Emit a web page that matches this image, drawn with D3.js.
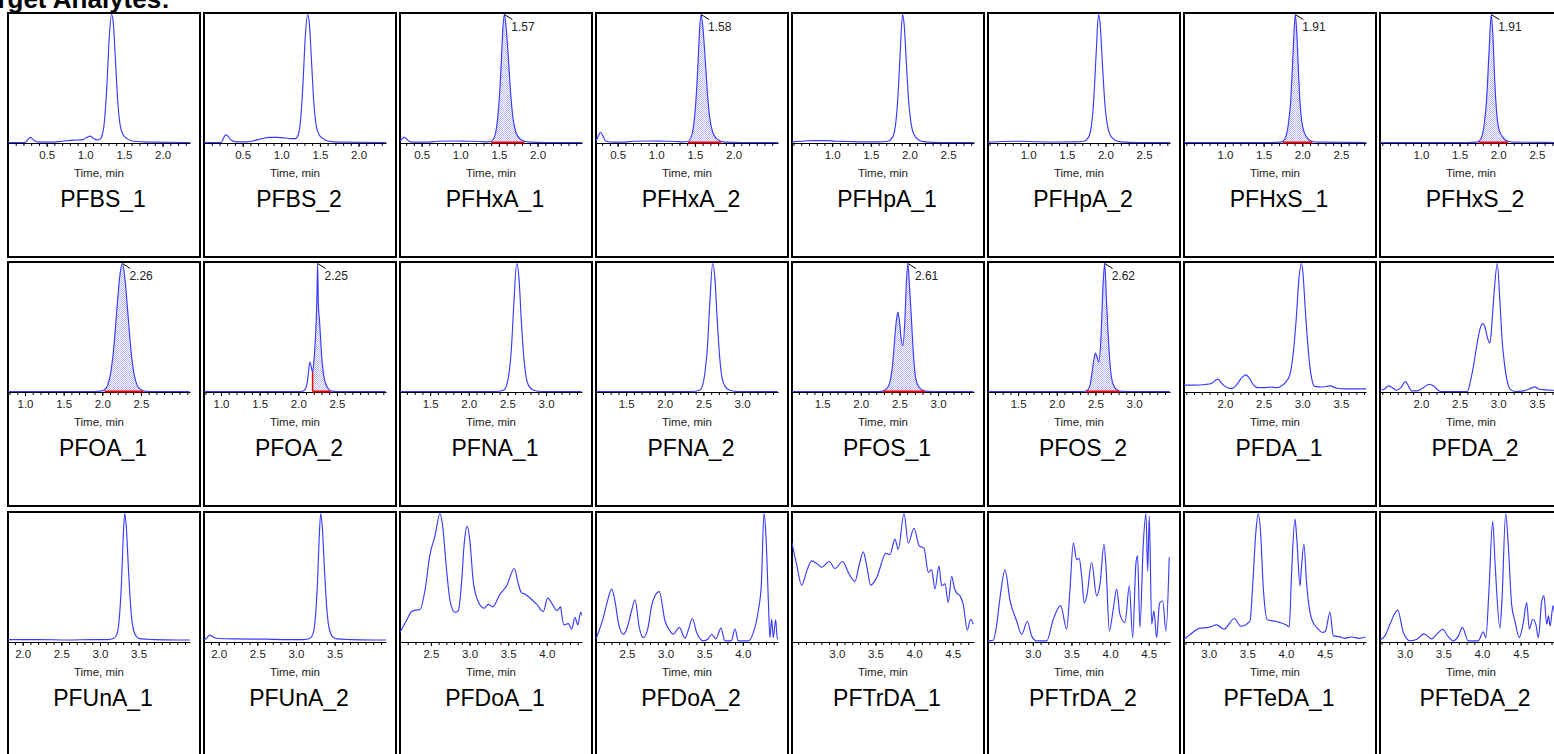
<!DOCTYPE html>
<html><head><meta charset="utf-8">
<script src="https://cdn.jsdelivr.net/npm/d3@7"></script>
<style>body{margin:0;background:#fff;overflow:hidden}svg{display:block}</style>
</head><body><svg id="c" width="1554" height="754"></svg>
<script>
// ---------- DATA ----------
const analytes = ["PFBS","PFHxA","PFHpA","PFHxS","PFOA","PFNA","PFOS","PFDA","PFUnA","PFDoA","PFTrDA","PFTeDA"];
const windowStart = [0.0,0.22,0.48,0.47,0.78,1.11,1.11,1.47,1.81,2.1,2.42,2.68];
const windowSpan = 2.355;
const tickLabels = [[0.5,1.0,1.5,2.0],[0.5,1.0,1.5,2.0],[1.0,1.5,2.0,2.5],[1.0,1.5,2.0,2.5],[1.0,1.5,2.0,2.5],[1.5,2.0,2.5,3.0],[1.5,2.0,2.5,3.0],[2.0,2.5,3.0,3.5],[2.0,2.5,3.0,3.5],[2.5,3.0,3.5,4.0],[3.0,3.5,4.0,4.5],[3.0,3.5,4.0,4.5]];

const PFBS_1 = [[0.00,0],[0.22,0],[0.26,2.5],[0.29,4],[0.33,2],[0.38,0.5],[0.55,0.3],[0.70,1],[0.85,1.8],[0.97,2.2],[1.02,4],[1.06,5],[1.10,3.5],[1.15,2],[1.19,2.5],[1.22,6],[1.25,18],[1.28,45],[1.31,82],[1.34,100],[1.36,95],[1.39,65],[1.42,32],[1.45,14],[1.49,6],[1.54,3],[1.62,1],[1.75,0.5],[1.9,0.3],[2.36,0]];
const PFBS_2 = [[0.00,0],[0.22,0],[0.25,3],[0.28,6],[0.31,5],[0.35,2],[0.42,0.5],[0.55,0.5],[0.65,1.5],[0.75,3],[0.85,4],[0.95,4],[1.05,3.5],[1.12,3],[1.18,3],[1.22,6],[1.25,18],[1.28,45],[1.31,82],[1.34,100],[1.36,95],[1.39,65],[1.42,32],[1.45,14],[1.49,6],[1.54,3],[1.62,1],[1.75,0.3],[2.36,0]];
const PFHxA_1 = [[0.22,1],[0.25,3],[0.28,4],[0.31,2.5],[0.35,0.5],[0.45,0.3],[0.6,0.3],[0.7,1],[0.9,1.2],[1.1,1],[1.25,0.8],[1.35,0.5],[1.40,1],[1.44,4],[1.47,12],[1.50,30],[1.53,62],[1.55,88],[1.57,100],[1.59,92],[1.62,68],[1.65,40],[1.68,20],[1.72,8],[1.77,3],[1.83,1],[1.9,0.3],[2.1,0],[2.58,0]];
const PFHxA_2 = [[0.22,1],[0.25,5],[0.28,8],[0.31,5],[0.35,1],[0.45,0.3],[0.6,0.3],[0.7,1],[0.9,1.2],[1.1,1],[1.25,0.8],[1.35,0.5],[1.41,1],[1.45,4],[1.48,12],[1.51,30],[1.54,62],[1.56,88],[1.58,100],[1.60,92],[1.63,68],[1.66,40],[1.69,20],[1.73,8],[1.78,3],[1.84,1],[1.9,0.3],[2.1,0],[2.58,0]];
const PFHpA_1 = [[0.48,0.5],[0.6,1],[0.75,1.5],[0.9,1.5],[1.05,1],[1.2,0.8],[1.4,0.5],[1.6,0.5],[1.72,1],[1.78,4],[1.82,14],[1.85,35],[1.88,70],[1.91,100],[1.93,93],[1.96,62],[1.99,32],[2.02,15],[2.06,6],[2.12,2],[2.2,0.5],[2.4,0],[2.84,0]];
const PFHpA_2 = [[0.48,0.3],[0.7,0.8],[0.9,1],[1.1,0.6],[1.4,0.4],[1.6,0.5],[1.72,1],[1.78,4],[1.82,14],[1.85,35],[1.88,70],[1.91,100],[1.93,93],[1.96,62],[1.99,32],[2.02,15],[2.06,6],[2.12,2],[2.2,0.5],[2.4,0],[2.84,0]];
const PFHxS_1 = [[0.47,0],[1.6,0],[1.72,0.3],[1.75,1],[1.79,5],[1.82,14],[1.85,32],[1.88,68],[1.91,100],[1.93,85],[1.955,50],[1.98,24],[2.01,11],[2.05,5],[2.09,2],[2.13,1],[2.2,0.3],[2.84,0]];
const PFHxS_2 = [[0.47,0],[1.6,0],[1.72,0.3],[1.75,1],[1.79,5],[1.82,15],[1.85,34],[1.88,70],[1.91,100],[1.93,84],[1.955,48],[1.98,23],[2.01,10],[2.05,5],[2.09,2],[2.13,1],[2.2,0.3],[2.84,0]];
const PFOA_1 = [[0.78,0],[1.9,0],[2.0,0.5],[2.03,1.5],[2.07,5],[2.11,15],[2.15,35],[2.19,65],[2.23,92],[2.26,100],[2.29,90],[2.33,62],[2.37,33],[2.41,14],[2.45,5],[2.49,2],[2.53,0.5],[2.6,0],[3.13,0]];
const PFOA_2 = [[0.78,0],[2.04,0],[2.08,1],[2.11,5],[2.13,14],[2.15,23],[2.165,20],[2.185,15],[2.20,22],[2.22,40],[2.24,70],[2.25,100],[2.26,68],[2.275,55],[2.29,40],[2.31,22],[2.34,9],[2.38,3],[2.42,0.5],[2.5,0],[3.13,0]];
const PFNA_1 = [[1.11,0],[2.35,0],[2.45,1],[2.49,5],[2.52,14],[2.55,32],[2.58,65],[2.62,100],[2.65,88],[2.68,55],[2.71,28],[2.74,12],[2.78,4],[2.84,1],[2.95,0],[3.46,0]];
const PFNA_2 = [[1.11,0],[2.35,0],[2.45,1],[2.49,5],[2.52,15],[2.55,33],[2.58,66],[2.62,100],[2.65,87],[2.68,54],[2.71,27],[2.74,11],[2.78,4],[2.84,1],[2.95,0],[3.46,0]];
const PFOS_1 = [[1.11,0],[2.25,0],[2.29,0.5],[2.33,2],[2.37,6],[2.41,20],[2.44,42],[2.46,55],[2.48,62],[2.50,55],[2.525,40],[2.545,36],[2.57,55],[2.59,85],[2.61,100],[2.63,82],[2.645,68],[2.675,35],[2.70,15],[2.72,8],[2.76,3],[2.8,1],[2.83,0.3],[2.9,0],[3.46,0]];
const PFOS_2 = [[1.11,0],[2.35,0],[2.38,0.5],[2.41,2],[2.43,5],[2.45,12],[2.48,25],[2.50,30],[2.52,27],[2.545,23],[2.57,40],[2.60,85],[2.62,100],[2.64,75],[2.66,50],[2.685,25],[2.71,10],[2.75,3],[2.79,1],[2.81,0.3],[2.9,0],[3.46,0]];
const PFDA_1 = [[1.47,5],[1.6,5],[1.75,5.5],[1.83,6.5],[1.88,9],[1.91,9.6],[1.95,7],[2.0,4],[2.06,2.5],[2.1,2.5],[2.16,6],[2.22,11],[2.27,13],[2.32,10],[2.37,5],[2.43,3],[2.5,3],[2.6,3.5],[2.66,3],[2.72,4],[2.78,7],[2.84,13],[2.88,28],[2.92,55],[2.96,90],[2.99,100],[3.01,92],[3.035,68],[3.07,38],[3.10,19],[3.13,8],[3.16,4],[3.25,3.5],[3.36,4.4],[3.45,2.5],[3.55,2],[3.7,2],[3.83,2]];
const PFDA_2 = [[1.47,1],[1.53,2],[1.578,4.4],[1.63,3],[1.686,1],[1.74,3],[1.80,7.8],[1.84,4],[1.88,0.5],[1.95,0.5],[2.02,2.5],[2.08,5],[2.117,5.7],[2.17,4],[2.22,1],[2.25,0],[2.6,0],[2.64,8],[2.68,20],[2.72,35],[2.76,48],[2.798,53],[2.83,50],[2.86,42],[2.893,38],[2.92,55],[2.95,80],[2.988,100],[3.02,72],[3.05,40],[3.08,22],[3.11,10],[3.15,2],[3.216,0],[3.33,0.5],[3.40,2],[3.475,3.6],[3.52,2],[3.58,1.5],[3.70,1],[3.83,1]];
const PFUnA_1 = [[1.81,1.5],[2.2,1.5],[2.6,1.2],[2.9,1.5],[3.1,1.5],[3.18,2.5],[3.22,6],[3.25,18],[3.28,48],[3.30,80],[3.32,100],[3.34,90],[3.37,55],[3.40,25],[3.43,10],[3.47,4],[3.53,2],[3.7,1.5],[4.0,1.2],[4.17,1.2]];
const PFUnA_2 = [[1.81,1],[1.85,3],[1.88,5],[1.92,4],[1.97,2.5],[2.2,2],[2.6,1.8],[2.9,1.5],[3.1,1.5],[3.18,2.5],[3.22,6],[3.25,18],[3.28,48],[3.30,80],[3.32,100],[3.34,90],[3.37,55],[3.40,25],[3.43,10],[3.47,4],[3.53,2],[3.7,1.5],[4.0,1.2],[4.17,1.2]];
const PFDoA_1 = [[2.10,7],[2.18,16],[2.251,23.4],[2.30,24.5],[2.359,25],[2.423,40],[2.488,68],[2.553,82.6],[2.617,100],[2.65,91],[2.704,55],[2.747,32],[2.811,22.7],[2.855,24],[2.898,47],[2.93,76],[2.971,90],[3.0,81],[3.048,47],[3.10,33],[3.187,26],[3.243,29],[3.299,27],[3.394,37],[3.48,43.5],[3.579,57],[3.631,44.8],[3.674,38],[3.72,37],[3.782,34],[3.869,29],[3.954,23.4],[4.011,33.9],[4.083,27.9],[4.127,24],[4.179,27],[4.192,21],[4.222,13],[4.278,14],[4.321,9.6],[4.364,18.8],[4.40,13],[4.438,22.7],[4.46,20]];
const PFDoA_2 = [[2.10,1.8],[2.195,18.8],[2.25,32],[2.303,40.9],[2.35,30],[2.389,14.8],[2.453,5.7],[2.50,10],[2.56,24],[2.605,32.6],[2.66,10.9],[2.712,3],[2.77,10],[2.82,28],[2.863,35.7],[2.918,39],[2.993,16],[3.05,9],[3.1,5.7],[3.178,11],[3.251,2.6],[3.30,10],[3.346,18],[3.403,7],[3.488,0.5],[3.55,2],[3.597,5.7],[3.65,2],[3.717,10.4],[3.769,0.5],[3.85,0.5],[3.898,10],[3.941,0.5],[4.07,0.5],[4.13,6],[4.2,24],[4.24,45],[4.273,100],[4.299,83],[4.329,34],[4.351,3],[4.373,17.4],[4.394,3],[4.425,17],[4.446,2],[4.46,3]];
const PFTrDA_1 = [[2.42,77],[2.48,60],[2.545,44],[2.61,55],[2.675,63],[2.74,61],[2.804,58],[2.903,62.5],[2.976,57],[3.076,62.5],[3.148,54],[3.235,47],[3.29,60],[3.342,70],[3.39,58],[3.438,44],[3.516,50],[3.636,68.8],[3.688,68],[3.752,80],[3.795,72],[3.869,100],[3.925,77],[3.998,88.5],[4.067,74.7],[4.128,73],[4.184,54],[4.227,56],[4.27,41],[4.322,59],[4.357,43.5],[4.399,45],[4.442,30.5],[4.486,51],[4.52,42],[4.55,38],[4.593,35.7],[4.636,29],[4.688,8.9],[4.731,17.4],[4.765,13.5]];
const PFTrDA_2 = [[2.42,0.5],[2.489,1],[2.53,12],[2.575,34],[2.64,56],[2.705,32],[2.791,16],[2.856,5.7],[2.929,15.6],[2.985,4.4],[3.05,0.5],[3.179,0.5],[3.265,17.4],[3.36,28],[3.438,9.6],[3.48,40],[3.524,76.8],[3.567,64],[3.60,65],[3.632,51],[3.666,30],[3.70,36],[3.761,61.7],[3.826,35.7],[3.87,45],[3.921,76],[3.95,55],[3.99,8.3],[4.04,25],[4.085,40.9],[4.128,21],[4.192,14.8],[4.249,43.5],[4.292,3],[4.335,61.7],[4.355,67],[4.386,11],[4.429,76],[4.464,100],[4.486,55],[4.507,98],[4.538,13.5],[4.567,24],[4.602,3],[4.64,30],[4.68,31.8],[4.723,8],[4.765,65.6]];
const PFTeDA_1 = [[2.68,1.8],[2.75,5],[2.887,10.4],[3.0,11],[3.103,13],[3.197,9.6],[3.331,18],[3.413,12],[3.534,16],[3.57,45],[3.611,86.5],[3.641,100],[3.67,86],[3.706,42],[3.758,17],[3.879,15.6],[4.0,13],[4.042,11.5],[4.07,50],[4.116,95.6],[4.14,80],[4.181,43.5],[4.20,58],[4.232,76],[4.267,44.8],[4.332,17.4],[4.418,9.6],[4.474,7],[4.51,8],[4.569,22.7],[4.612,4.4],[4.698,3.6],[4.75,2.5],[4.85,3.5],[4.95,2.5],[5.03,3.5]];
const PFTeDA_2 = [[2.68,1],[2.75,5],[2.809,13.5],[2.909,24.5],[2.982,7],[3.068,0.5],[3.15,1.5],[3.249,6],[3.349,2],[3.42,6],[3.491,9.6],[3.56,4],[3.628,0.5],[3.70,5],[3.745,11],[3.822,0.5],[3.952,0.5],[4.017,7.6],[4.05,3],[4.09,40],[4.138,93.8],[4.17,60],[4.232,10.4],[4.26,35],[4.306,100],[4.34,75],[4.383,29],[4.426,16],[4.482,3],[4.534,14.8],[4.578,30.5],[4.612,9.6],[4.656,17.4],[4.698,13],[4.729,3],[4.773,31.8],[4.802,35.7],[4.837,13.5],[4.86,20],[4.88,12],[4.92,28],[4.96,15],[5.03,20]];

// integrated peaks: panel, start, end, RT label, drop line
const integPanels = ["PFHxA_1","PFHxA_2","PFHxS_1","PFHxS_2","PFOA_1","PFOA_2","PFOS_1","PFOS_2"];
const integStart = [1.40,1.41,1.75,1.75,2.03,2.185,2.29,2.38];
const integEnd = [1.83,1.84,2.13,2.13,2.53,2.42,2.83,2.81];
const peakRT = [1.57,1.58,1.91,1.91,2.26,2.25,2.61,2.62];
const dropLine = [false,false,false,false,false,true,false,false];

const traces = {PFBS_1,PFBS_2,PFHxA_1,PFHxA_2,PFHpA_1,PFHpA_2,PFHxS_1,PFHxS_2,PFOA_1,PFOA_2,PFNA_1,PFNA_2,PFOS_1,PFOS_2,PFDA_1,PFDA_2,PFUnA_1,PFUnA_2,PFDoA_1,PFDoA_2,PFTrDA_1,PFTrDA_2,PFTeDA_1,PFTeDA_2};

// ---------- DRAW ----------
const svg = d3.select("#c");
const defs = svg.append("defs");
const pat = defs.append("pattern").attr("id","hatch").attr("width",2).attr("height",2).attr("patternUnits","userSpaceOnUse");
pat.append("rect").attr("width",2).attr("height",2).attr("fill","#fff");
pat.append("rect").attr("x",0).attr("y",0).attr("width",1).attr("height",1).attr("fill","#b4b4ff");
pat.append("rect").attr("x",1).attr("y",1).attr("width",1).attr("height",1).attr("fill","#b4b4ff");

const FONT = "Arial, 'Liberation Sans', sans-serif";
svg.append("text").attr("x",-31).attr("y",8).attr("font-family",FONT).attr("font-weight","bold")
  .attr("font-size",26).attr("fill","#000").text("Target Analytes:");

const colX = d => 7 + 196*d;
const rowY = [12, 261, 511];

const names = [];
analytes.forEach(a => { names.push(a+"_1"); names.push(a+"_2"); });

names.forEach((name, i) => {
  const ai = Math.floor(i/2), row = Math.floor(i/8), col = i % 8;
  const cx = colX(col), cy = rowY[row];
  const s = windowStart[ai], e = s + windowSpan;
  const g = svg.append("g");
  g.append("rect").attr("x",cx+1).attr("y",cy+1).attr("width",192).attr("height",244)
    .attr("fill","#fff").attr("stroke","#000").attr("stroke-width",2);

  const x = d3.scaleLinear().domain([s,e]).range([cx+1, cx+183]);
  const y = d3.scaleLinear().domain([0,100]).range([cy+130.5, cy+2.5]);
  const base = y(0);

  const clipId = "clip"+i;
  defs.append("clipPath").attr("id",clipId).append("rect")
    .attr("x",cx+1).attr("y",cy+1).attr("width",182).attr("height",132);

  // axis
  const minor = d3.range(Math.ceil(s*10), Math.floor(e*10)+1).map(v => v/10);
  const axMinor = d3.axisBottom(x).tickValues(minor).tickSize(3).tickSizeOuter(0).tickFormat("");
  const gm = g.append("g").attr("transform",`translate(0,${base+0.5})`).call(axMinor);
  gm.selectAll("path,line").attr("stroke","#000").attr("stroke-width",1);
  const axMajor = d3.axisBottom(x).tickValues(tickLabels[ai]).tickSize(4).tickSizeOuter(0).tickFormat(d3.format(".1f"));
  const ga = g.append("g").attr("transform",`translate(0,${base+0.5})`).call(axMajor);
  ga.select(".domain").remove();
  ga.selectAll("line").attr("stroke","#000");
  ga.selectAll("text").attr("y",16).attr("dy",null).attr("font-family",FONT).attr("font-size",11.5).attr("fill","#222");

  g.append("text").attr("x",cx+92).attr("y",base+34).attr("text-anchor","middle")
    .attr("font-family",FONT).attr("font-size",11.5).attr("fill","#222").text("Time, min");

  g.append("text").attr("x",cx+96).attr("y",cy+195).attr("text-anchor","middle")
    .attr("font-family",FONT).attr("font-size",23).attr("fill","#000").text(name);

  const data = traces[name];
  const plot = g.append("g").attr("clip-path",`url(#${clipId})`);

  const k = integPanels.indexOf(name);
  if (k >= 0) {
    const seg = data.filter(d => d[0] >= integStart[k] && d[0] <= integEnd[k]);
    plot.append("path").datum(seg)
      .attr("d", d3.area().x(d=>x(d[0])).y0(base).y1(d=>y(d[1])).curve(d3.curveMonotoneX))
      .attr("fill","url(#hatch)");
  }

  plot.append("path").datum(data)
    .attr("d", d3.line().x(d=>x(d[0])).y(d=>y(d[1])).curve(d3.curveMonotoneX))
    .attr("fill","none").attr("stroke","#3a3aff").attr("stroke-width",1.15);

  if (k >= 0) {
    plot.append("line").attr("x1",x(integStart[k])).attr("x2",x(integEnd[k]))
      .attr("y1",base).attr("y2",base).attr("stroke","#ee0000").attr("stroke-width",2);
    if (dropLine[k]) {
      const dp = data.find(d => d[0] === integStart[k]);
      plot.append("line").attr("x1",x(integStart[k])).attr("x2",x(integStart[k]))
        .attr("y1",base).attr("y2",y(dp[1])).attr("stroke","#ee0000").attr("stroke-width",1.5);
    }
    const px = x(peakRT[k]), pt = y(100);
    g.append("line").attr("x1",px).attr("y1",pt).attr("x2",px+8).attr("y2",pt+5)
      .attr("stroke","#000").attr("stroke-width",1);
    g.append("text").attr("x",px+7).attr("y",pt+16.5).attr("font-family",FONT)
      .attr("font-size",12).attr("fill","#222").text(d3.format(".2f")(peakRT[k]));
  }
});
</script></body></html>
